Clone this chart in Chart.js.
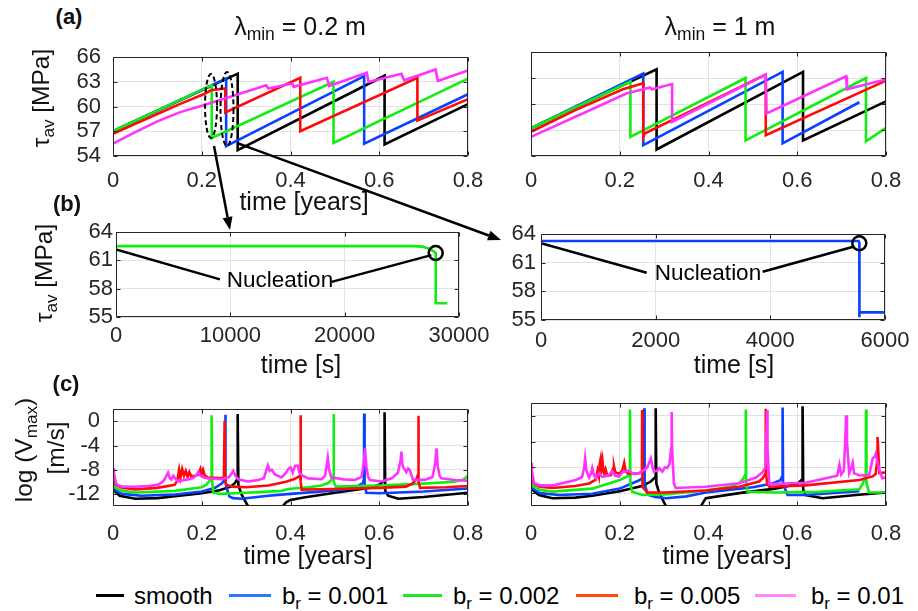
<!DOCTYPE html>
<html><head><meta charset="utf-8">
<script src="https://cdn.jsdelivr.net/npm/chart.js@4.4.0/dist/chart.umd.min.js"></script>
<style>
body{margin:0;background:#fff;}
#root{position:relative;width:918px;height:611px;overflow:hidden;font-family:"Liberation Sans",Arial,Helvetica,sans-serif;color:#111;background:#fff;}
.tx{position:absolute;white-space:nowrap;line-height:1;z-index:5;}
.sb{font-size:0.7em;position:relative;top:0.32em;}
</style></head><body><div id="root"></div>
<script>
// ---------- tick labels ----------
const xTicksYears=[0,0.2,0.4,0.6,0.8];
const yTicksA=[54,57,60,63,66];
const xTicksBL=[0,10000,20000,30000];
const xTicksBR=[0,2000,4000,6000];
const yTicksB=[55,58,61,64];
const yTicksC=[-12,-8,-4,0];
const seriesNames=['smooth','b<span class="sb">r</span> = 0.001','b<span class="sb">r</span> = 0.002','b<span class="sb">r</span> = 0.005','b<span class="sb">r</span> = 0.01'];

// ---------- (a) left, lambda_min = 0.2 m : [time(yr), tau_av(MPa)] ----------
const aL_smooth=[[0,57.0],[0.281,64.0],[0.281,54.7],[0.612,63.75],[0.612,55.4],[0.8,60.3]];
const aL_b001=[[0,57.0],[0.255,63.4],[0.255,55.2],[0.566,63.7],[0.566,55.5],[0.8,61.5]];
const aL_b002=[[0,57.0],[0.2225,62.6],[0.2225,56.2],[0.497,63.0],[0.497,55.6],[0.8,63.4]];
const aL_b005=[[0,56.7],[0.05,57.9],[0.1,59.1],[0.15,60.3],[0.2,61.4],[0.215,61.8],[0.22,62.0],[0.253,62.2],[0.253,59.3],[0.422,63.5],[0.422,57.0],[0.686,63.5],[0.686,58.3],[0.8,60.9]];
const aL_b01=[[0,55.5],[0.05,56.9],[0.1,58.2],[0.15,59.3],[0.2,60.1],[0.27,61.3],[0.345,62.6],[0.35,62.2],[0.404,62.8],[0.407,62.4],[0.482,63.5],[0.487,62.5],[0.572,64.1],[0.576,63.0],[0.65,64.0],[0.656,63.2],[0.727,64.5],[0.732,63.1],[0.8,64.4]];

// ---------- (a) right, lambda_min = 1 m ----------
const aR_smooth=[[0,57.2],[0.283,64.0],[0.283,54.75],[0.613,63.7],[0.613,55.8],[0.8,60.3]];
const aR_b001=[[0,57.2],[0.253,63.5],[0.253,55.25],[0.567,63.7],[0.567,55.45],[0.74,60.2]];
const aR_b002=[[0,57.2],[0.224,62.6],[0.224,56.2],[0.4835,63.0],[0.4835,55.8],[0.755,63.0],[0.755,55.7],[0.8,57.25]];
const aR_b005=[[0,56.8],[0.1,59.3],[0.207,61.7],[0.253,62.4],[0.253,56.2],[0.256,56.6],[0.529,63.4],[0.529,56.4],[0.8,62.7]];
const aR_b01=[[0,56.2],[0.125,59.1],[0.215,61.2],[0.268,61.9],[0.272,61.7],[0.318,62.3],[0.318,57.95],[0.529,63.4],[0.531,58.9],[0.71,63.2],[0.712,61.7],[0.79,62.7],[0.8,62.8]];

// ---------- (b) zoom of first event : [time(s), tau_av(MPa)] ----------
const bL_b002=[[0,62.5],[26000,62.5],[26800,62.45],[27300,62.25],[27800,61.95],[27962,61.8],[27962,56.45],[28985,56.45]];
const bR_b001=[[0,63.27],[5540,63.27],[5552,63.03],[5552,55.3],[5556,55.8],[6000,55.8]];
const bL_nucLeft=[[0,62.14],[9087,58.98]];
const bL_nucRight=[[18857,58.72],[27577,61.55]];
const bL_nucPoint=[[27962,61.78]];
const bR_nucLeft=[[0,63.03],[1844,59.95]];
const bR_nucRight=[[3866,60.05],[5447,62.67]];
const bR_nucPoint=[[5552,63.03]];

// ---------- (c) log10 Vmax : [time(yr), log V] ----------
const cL_smooth=[[0,-10.4],[0.005,-11.6],[0.015,-12.3],[0.05,-12.8],[0.1,-12.7],[0.14,-12.4],[0.2,-11.9],[0.24,-11.4],[0.265,-10.8],[0.275,-10.2],[0.2805,-9.5],[0.281,1.2],[0.2825,-10.5],[0.289,-12],[0.304,-14],[0.32,-16],[0.37,-16],[0.383,-14],[0.39,-13.4],[0.4,-13.0],[0.43,-12.6],[0.5,-11.8],[0.58,-11.0],[0.6,-10.5],[0.6115,-9.8],[0.612,1.5],[0.6135,-11.5],[0.62,-12.3],[0.643,-12.8],[0.7,-12.5],[0.8,-11.8]];
const cL_b001=[[0,-10.2],[0.006,-11.4],[0.02,-12.0],[0.064,-12.3],[0.14,-12.1],[0.2,-11.6],[0.23,-11.0],[0.245,-10.3],[0.2525,-9.6],[0.253,1.1],[0.254,-10],[0.256,-11],[0.262,-12.4],[0.27,-12.7],[0.29,-12.8],[0.35,-12.3],[0.4,-12.0],[0.45,-11.7],[0.52,-11.3],[0.55,-10.8],[0.563,-10.2],[0.5655,-9.5],[0.566,1.3],[0.567,-10.5],[0.571,-11.8],[0.6,-11.9],[0.7,-11.6],[0.8,-11.1]];
const cL_b002=[[0,-9.95],[0.006,-11.0],[0.02,-11.5],[0.05,-11.77],[0.14,-11.5],[0.2,-10.9],[0.21,-10.5],[0.218,-9.8],[0.222,-9.2],[0.2222,1.0],[0.2235,-10],[0.226,-11.8],[0.24,-12.0],[0.3,-11.8],[0.38,-11.5],[0.395,-11.2],[0.44,-10.9],[0.47,-10.6],[0.485,-10.2],[0.492,-9.7],[0.4965,-9.0],[0.497,1.2],[0.498,-10.0],[0.502,-10.8],[0.6,-10.6],[0.7,-10.3],[0.77,-10.0],[0.79,-9.6],[0.8,-9.0]];
const cL_b005=[[0,-9.5],[0.006,-10.5],[0.02,-11.0],[0.05,-11.25],[0.1,-11.0],[0.139,-10.5],[0.145,-9.8],[0.149,-8.0],[0.152,-9.3],[0.156,-7.9],[0.16,-9.0],[0.164,-8.2],[0.168,-9.2],[0.172,-8.4],[0.176,-9.1],[0.185,-9.0],[0.193,-8.8],[0.197,-7.9],[0.2,-8.7],[0.203,-8.0],[0.207,-9.0],[0.215,-9.3],[0.24,-9.4],[0.25,-9.3],[0.2515,0.1],[0.2525,-9.5],[0.255,-10.5],[0.27,-10.8],[0.3,-10.9],[0.35,-10.6],[0.39,-10.0],[0.41,-9.5],[0.4215,-9.0],[0.4225,1.0],[0.4235,-10],[0.425,-11.3],[0.5,-11.2],[0.6,-11.0],[0.66,-10.8],[0.675,-10.3],[0.684,-9.5],[0.6875,-8.8],[0.688,0.9],[0.689,-10],[0.692,-11.0],[0.75,-10.9],[0.8,-10.7]];
const cL_b01=[[0,-7.7],[0.002,-8.6],[0.0075,-10.4],[0.02,-10.8],[0.049,-10.83],[0.08,-10.7],[0.102,-10.47],[0.112,-10.0],[0.117,-9.5],[0.124,-8.5],[0.128,-9.4],[0.131,-9.6],[0.136,-9.0],[0.139,-9.3],[0.147,-9.95],[0.16,-9.7],[0.169,-9.6],[0.18,-9.4],[0.188,-8.9],[0.192,-8.4],[0.196,-8.9],[0.205,-9.3],[0.214,-9.43],[0.244,-9.58],[0.262,-9.2],[0.271,-8.2],[0.276,-9.0],[0.282,-9.58],[0.304,-9.95],[0.327,-9.69],[0.34,-9.4],[0.346,-8.0],[0.349,-7.3],[0.353,-8.2],[0.358,-8.0],[0.364,-8.75],[0.38,-9.27],[0.39,-8.5],[0.395,-7.9],[0.4,-7.6],[0.405,-8.5],[0.41,-7.4],[0.417,-7.34],[0.42,-8.5],[0.425,-8.9],[0.44,-9.43],[0.47,-9.58],[0.478,-9.0],[0.482,-7.0],[0.484,-6.04],[0.487,-8.0],[0.492,-9.27],[0.52,-9.6],[0.545,-9.69],[0.56,-9.2],[0.565,-7.0],[0.568,-4.48],[0.571,-7.5],[0.575,-9.2],[0.579,-9.69],[0.605,-9.95],[0.628,-9.43],[0.642,-8.5],[0.648,-6.5],[0.65,-5.0],[0.652,-7.0],[0.654,-7.6],[0.661,-8.4],[0.665,-7.8],[0.669,-8.1],[0.673,-9.0],[0.676,-9.69],[0.703,-9.69],[0.72,-9.2],[0.726,-7.0],[0.729,-4.48],[0.732,-7.5],[0.736,-9.0],[0.74,-9.43],[0.77,-9.69],[0.8,-9.8]];

const cR_smooth=[[0,-10.4],[0.005,-11.6],[0.018,-12.3],[0.048,-12.8],[0.1,-12.7],[0.138,-12.4],[0.2,-11.7],[0.25,-10.9],[0.27,-10.2],[0.2805,-9.5],[0.281,1.2],[0.2825,-10.5],[0.289,-12],[0.304,-14],[0.32,-16],[0.37,-16],[0.383,-14],[0.39,-13.2],[0.394,-12.8],[0.469,-12.0],[0.55,-11.3],[0.6,-10.6],[0.6115,-9.8],[0.612,1.5],[0.6135,-11.5],[0.619,-12.3],[0.657,-12.8],[0.732,-12.3],[0.8,-11.9]];
const cR_b001=[[0,-10.2],[0.006,-11.4],[0.02,-12.0],[0.063,-12.3],[0.138,-12.1],[0.2,-11.3],[0.244,-10.0],[0.254,-9.5],[0.255,1.2],[0.256,-10.5],[0.262,-12.0],[0.266,-12.3],[0.28,-12.6],[0.304,-12.8],[0.35,-12.5],[0.394,-11.9],[0.5,-11.1],[0.544,-10.5],[0.562,-10.0],[0.5665,-9.3],[0.567,1.3],[0.568,-10.5],[0.578,-12.3],[0.619,-12.3],[0.74,-11.7]];
const cR_b002=[[0,-9.95],[0.006,-11.0],[0.02,-11.5],[0.048,-11.77],[0.138,-11.3],[0.2,-9.95],[0.217,-9.4],[0.2225,-9.0],[0.223,1.0],[0.224,-10.5],[0.228,-11.8],[0.251,-12.3],[0.3,-12.2],[0.394,-11.6],[0.45,-11.0],[0.47,-10.4],[0.478,-9.8],[0.4835,-9.0],[0.484,1.0],[0.485,-10.5],[0.488,-11.8],[0.55,-11.9],[0.65,-11.8],[0.74,-11.4],[0.748,-10.5],[0.7545,-9.0],[0.755,1.0],[0.756,-10.5],[0.762,-11.9],[0.8,-11.9]];
const cR_b005=[[0,-9.5],[0.006,-10.5],[0.02,-11.0],[0.048,-11.2],[0.1,-10.9],[0.131,-10.5],[0.146,-9.9],[0.15,-8.5],[0.153,-9.4],[0.155,-7.3],[0.157,-6.6],[0.159,-8.0],[0.161,-7.0],[0.163,-8.6],[0.165,-9.0],[0.168,-8.3],[0.172,-9.3],[0.18,-9.2],[0.185,-8.2],[0.187,-7.8],[0.19,-8.8],[0.2,-9.0],[0.206,-8.4],[0.21,-7.3],[0.213,-8.5],[0.217,-8.9],[0.23,-9.0],[0.244,-8.9],[0.25,-8.7],[0.2505,0.9],[0.251,-6],[0.2515,-11.0],[0.262,-11.9],[0.3,-11.9],[0.394,-11.6],[0.469,-11.0],[0.514,-10.2],[0.522,-9.7],[0.528,-9.0],[0.529,1.1],[0.53,-9],[0.532,-10.5],[0.537,-11.0],[0.619,-10.8],[0.74,-9.95],[0.77,-9.4],[0.777,-9.0],[0.78,-7],[0.781,-3.3],[0.783,-6],[0.785,-8.9],[0.8,-8.8]];
const cR_b01=[[0,-7.3],[0.002,-8.5],[0.0068,-10.47],[0.02,-10.8],[0.048,-10.83],[0.101,-9.95],[0.115,-9.5],[0.12,-8],[0.122,-6.6],[0.125,-8.5],[0.131,-9.58],[0.135,-9.0],[0.138,-8.1],[0.142,-9.2],[0.146,-9.69],[0.153,-8.9],[0.16,-9.43],[0.165,-9.4],[0.175,-9.2],[0.183,-8.65],[0.19,-9.3],[0.198,-9.43],[0.207,-8.7],[0.214,-8.65],[0.22,-8.5],[0.23,-9.0],[0.244,-8.9],[0.255,-8.4],[0.262,-8.0],[0.27,-6.6],[0.274,-8.0],[0.277,-8.65],[0.285,-8.5],[0.289,-8.1],[0.296,-8.65],[0.302,-8.0],[0.307,-8.1],[0.312,-7.5],[0.316,-5],[0.317,0.6],[0.318,-5],[0.322,-10.5],[0.326,-11.2],[0.394,-11.0],[0.469,-10.47],[0.507,-9.58],[0.522,-8.75],[0.528,-8.0],[0.531,-2],[0.532,0.9],[0.533,-5],[0.537,-10.6],[0.619,-10.4],[0.672,-9.58],[0.69,-9.3],[0.695,-7.6],[0.699,-9.1],[0.705,-8.5],[0.708,-4],[0.71,0.1],[0.712,-4],[0.717,-8.9],[0.722,-8.0],[0.725,-7.3],[0.728,-8.9],[0.74,-9.27],[0.762,-9.2],[0.77,-6.6],[0.775,-6.3],[0.777,-5.9],[0.781,-7.3],[0.785,-8.5],[0.792,-9.69],[0.8,-9.58]];

// ---------- styling ----------
const root=document.getElementById('root');
const FF='"Liberation Sans", Arial, Helvetica, sans-serif';
const TC='#262626', GRID='#e2e2e2';
const LINE_COLORS=['#000000','#0a40ff','#10ee10','#ff0a0a','#ff33ff'];
const LEG_COLORS=['#000000','#2a78ff','#22e822','#ff4a14','#ff88ff'];
const TICK_SIZE=22;

const frame={id:'frame',afterDatasetsDraw(ch){
  const {ctx,chartArea:a,scales}=ch; const x=scales.x,y=scales.y;
  ctx.save(); ctx.strokeStyle=TC; ctx.lineWidth=1;
  const L=Math.round(a.left)+0.5,R=Math.round(a.right)-0.5,T=Math.round(a.top)+0.5,B=Math.round(a.bottom)-0.5;
  ctx.beginPath(); ctx.rect(L,T,R-L,B-T);
  const k=4;
  x.ticks.forEach(t=>{const p=Math.round(x.getPixelForValue(t.value))+0.5;ctx.moveTo(p,B);ctx.lineTo(p,B-k);ctx.moveTo(p,T);ctx.lineTo(p,T+k);});
  y.ticks.forEach(t=>{const p=Math.round(y.getPixelForValue(t.value))+0.5;ctx.moveTo(L,p);ctx.lineTo(L+k,p);ctx.moveTo(R,p);ctx.lineTo(R-k,p);});
  ctx.stroke(); ctx.restore();
}};

function ds(pts,color,order,extra){
  return Object.assign({data:pts.map(p=>({x:p[0],y:p[1]})),borderColor:color,backgroundColor:color,borderWidth:2.6,pointRadius:0,fill:false,order:order},extra||{});
}
function five(arrs){return arrs.map((a,i)=>ds(a,LINE_COLORS[i],5-i));}

function mk(rect,o){
  const ML=110,MT=20,MR=45,MB=50;
  const [L,T,R,B]=rect;
  const c=document.createElement('canvas');
  const w=R-L+ML+MR,h=B-T+MT+MB;
  c.width=w;c.height=h;
  Object.assign(c.style,{position:'absolute',left:(L-ML)+'px',top:(T-MT)+'px',width:w+'px',height:h+'px'});
  root.appendChild(c);
  const tf={family:FF,size:TICK_SIZE};
  new Chart(c,{type:'line',data:{datasets:o.datasets},options:{
    responsive:false,animation:false,devicePixelRatio:1,
    layout:{padding:{top:MT,right:MR,left:0,bottom:0}},
    plugins:{legend:{display:false},tooltip:{enabled:false},title:{display:false}},
    elements:{point:{radius:0,hoverRadius:0},line:{borderWidth:2.6,tension:0}},
    scales:{
      x:{type:'linear',min:o.xr[0],max:o.xr[1],
        afterBuildTicks:s=>{s.ticks=o.xt.map(v=>({value:v}));},
        afterFit:s=>{s.height=MB;},
        grid:{color:GRID,lineWidth:1,drawTicks:false},border:{display:false},
        ticks:{display:o.xl!==false,padding:o.xp,font:tf,color:TC,maxRotation:0,minRotation:0,autoSkip:false,callback:v=>String(v)}},
      y:{type:'linear',min:o.yr[0],max:o.yr[1],
        afterBuildTicks:s=>{s.ticks=o.yt.map(v=>({value:v}));},
        afterFit:s=>{s.width=ML;},
        grid:{color:GRID,lineWidth:1,drawTicks:false},border:{display:false},
        ticks:{display:o.yl!==false,padding:o.yp,font:tf,color:TC,autoSkip:false,callback:v=>String(v)}}
    }},plugins:[frame]});
}

const annLine=(pts)=>ds(pts,'#000000',0,{borderWidth:2.5});
const annPt=(pts)=>ds(pts,'#000000',0,{showLine:false,pointRadius:7,pointHoverRadius:7,pointBorderWidth:2.5,pointBorderColor:'#000',pointBackgroundColor:'rgba(0,0,0,0)'});

mk([113,52,468,156],{xr:[0,0.8],yr:[54,66],xt:xTicksYears,yt:yTicksA,xp:12,yp:12,
  datasets:five([aL_smooth,aL_b001,aL_b002,aL_b005,aL_b01])});
mk([531,52,886,156],{xr:[0,0.8],yr:[54,66],xt:xTicksYears,yt:yTicksA,xp:12,yp:12,yl:false,
  datasets:five([aR_smooth,aR_b001,aR_b002,aR_b005,aR_b01])});
mk([116,232,459,317],{xr:[0,30000],yr:[55,64],xt:xTicksBL,yt:yTicksB,xp:6,yp:3,
  datasets:[ds(bL_b002,LINE_COLORS[2],3),annLine(bL_nucLeft),annLine(bL_nucRight),annPt(bL_nucPoint)]});
mk([541,234,885,320],{xr:[0,6000],yr:[55,64],xt:xTicksBR,yt:yTicksB,xp:8,yp:5,
  datasets:[ds(bR_b001,LINE_COLORS[1],3),annLine(bR_nucLeft),annLine(bR_nucRight),annPt(bR_nucPoint)]});
mk([113,403,468,506],{xr:[0,0.8],yr:[-14,2],xt:xTicksYears,yt:yTicksC,xp:15,yp:13,
  datasets:five([cL_smooth,cL_b001,cL_b002,cL_b005,cL_b01])});
mk([531,403,886,506],{xr:[0,0.8],yr:[-14,2],xt:xTicksYears,yt:yTicksC,xp:15,yp:13,yl:false,
  datasets:five([cR_smooth,cR_b001,cR_b002,cR_b005,cR_b01])});

// ---------- texts ----------
function tb(html,cx,base,size,o){ // centered horizontally at cx, baseline at base
  o=o||{};
  const d=document.createElement('div');d.className='tx';d.innerHTML=html;
  d.style.fontSize=size+'px';d.style.left=cx+'px';d.style.top=(base-0.8465*size)+'px';
  d.style.transform=o.left?'none':'translateX(-50%)';
  if(o.bold)d.style.fontWeight='bold';
  d.style.color=o.color||'#111';
  root.appendChild(d);return d;
}
function tr(html,cx,cy,size){ // rotated -90, centered
  const d=document.createElement('div');d.className='tx';d.innerHTML=html;
  d.style.fontSize=size+'px';d.style.left=cx+'px';d.style.top=cy+'px';
  d.style.transform='translate(-50%,-50%) rotate(-90deg)';d.style.color='#111';
  root.appendChild(d);return d;
}
tb('λ<span class="sb">min</span> = 0.2 m',300,35,25);
tb('λ<span class="sb">min</span> = 1 m',720,35,25);
tb('(a)',69,25,22,{bold:true});
tb('(b)',67,212,22,{bold:true});
tb('(c)',66,392,22,{bold:true});
tb('time [years]',304,210,25);
tb('time [s]',301,373,25);
tb('time [s]',734,373,25);
tb('time [years]',308,564,25);
tb('time [years]',727,564,25);
tb('Nucleation',280,288,22.5,{color:'#000'});
tb('Nucleation',708,281.5,22.5,{color:'#000'});
tr('τ<span class="sb">av</span> [MPa]',41,98,24.5);
tr('τ<span class="sb">av</span> [MPa]',44,273,24.5);
tr('log (V<span class="sb">max</span>)',24,450,24.5);
tr('[m/s]',56,448,24.5);

// ---------- legend ----------
const legItems=[[96,124,134],[229,271,282],[403,442,453],[576,618,634],[755,796,811]];
legItems.forEach((it,i)=>{
  const l=document.createElement('div');
  Object.assign(l.style,{position:'absolute',left:it[0]+'px',top:'594px',width:(it[1]-it[0])+'px',height:'3px',background:LEG_COLORS[i]});
  root.appendChild(l);
  tb(seriesNames[i],it[2],604,24,{left:true,color:'#000'});
});

// ---------- arrows & dashed ellipses overlay ----------
const NS='http://www.w3.org/2000/svg';
const svg=document.createElementNS(NS,'svg');
svg.setAttribute('width','918');svg.setAttribute('height','611');
Object.assign(svg.style,{position:'absolute',left:'0',top:'0',zIndex:6,pointerEvents:'none'});
root.appendChild(svg);
function el(n,a){const e=document.createElementNS(NS,n);for(const k in a)e.setAttribute(k,a[k]);svg.appendChild(e);return e;}
el('ellipse',{cx:211,cy:106,rx:6,ry:32,fill:'none',stroke:'#000','stroke-width':2,'stroke-dasharray':'5 3'});
el('ellipse',{cx:227,cy:109,rx:6.5,ry:37,fill:'none',stroke:'#000','stroke-width':2,'stroke-dasharray':'5 3'});
function arrow(x1,y1,x2,y2){
  const dx=x2-x1,dy=y2-y1,len=Math.hypot(dx,dy),ux=dx/len,uy=dy/len,hl=13,hw=5;
  const bx=x2-ux*hl,by=y2-uy*hl;
  el('line',{x1:x1,y1:y1,x2:bx,y2:by,stroke:'#000','stroke-width':2.5});
  el('polygon',{points:`${x2},${y2} ${bx-uy*hw},${by+ux*hw} ${bx+uy*hw},${by-ux*hw}`,fill:'#000'});
}
arrow(214,146,230,230);
arrow(237,143,501,240);
</script></body></html>
